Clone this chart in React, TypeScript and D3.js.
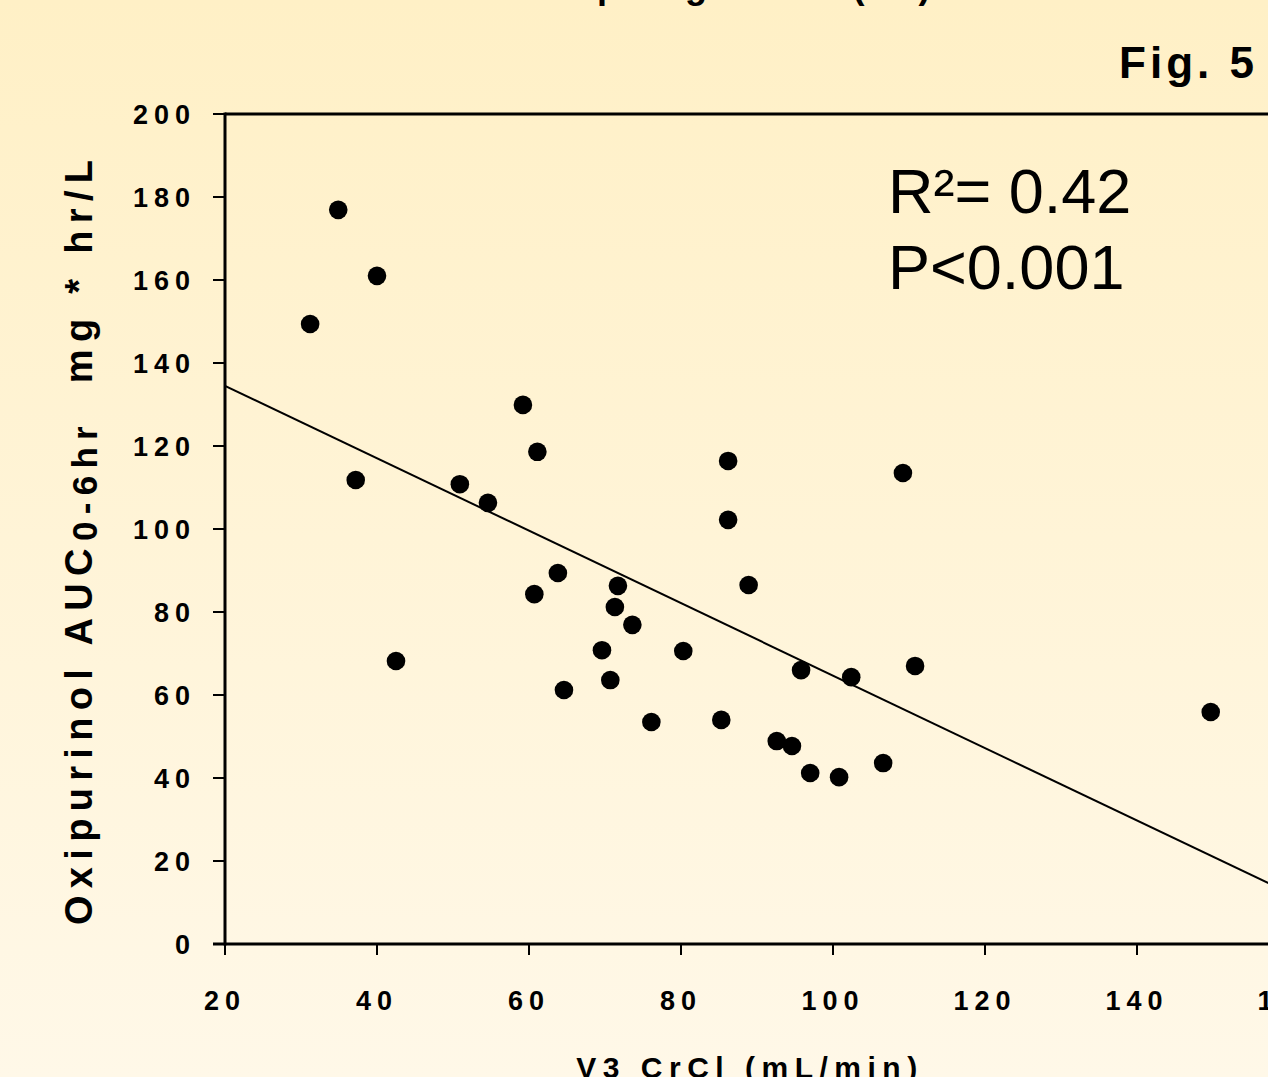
import React, { useEffect, useRef } from 'react';
import * as d3 from 'd3';

// V3 creatinine clearance (mL/min) and oxipurinol AUC 0-6hr (mg*hr/L)
const crcl = [31.2, 34.9, 40.0, 37.2, 42.5, 50.9, 54.6, 59.2, 61.1, 60.7, 63.8, 64.6, 69.6, 70.7, 71.3, 71.7, 73.6,
  76.1, 80.3, 85.3, 86.2, 86.2, 88.9, 92.6, 94.6, 95.8, 97.0, 100.8, 102.4, 106.6, 109.2, 110.8, 149.7];
const auc = [149.4, 176.9, 161.0, 111.8, 68.2, 110.8, 106.3, 129.9, 118.6, 84.3, 89.4, 61.2, 70.8, 63.6, 81.2, 86.3, 76.9,
  53.5, 70.6, 54.0, 116.4, 102.2, 86.5, 48.9, 47.7, 66.0, 41.2, 40.2, 64.3, 43.6, 113.5, 67.0, 55.9];

const xTicks = [20, 40, 60, 80, 100, 120, 140, 160];
const yTicks = [0, 20, 40, 60, 80, 100, 120, 140, 160, 180, 200];

// fitted line, end points
const trendX = [20, 160];
const trendY = [134.5, 12.3];

const FONT = '"Liberation Sans", Arial, Helvetica, sans-serif';

const App = () => {
  const svgRef = useRef<SVGSVGElement>(null);

  useEffect(() => {
    const width = 1268;
    const height = 1077;
    const svg = d3.select(svgRef.current);
    svg.selectAll('*').remove();
    svg.attr('width', width).attr('height', height);

    const defs = svg.append('defs');
    const grad = defs.append('linearGradient')
      .attr('id', 'bg').attr('x1', 0).attr('y1', 0).attr('x2', 0).attr('y2', 1);
    grad.append('stop').attr('offset', '0%').attr('stop-color', '#fff0c6');
    grad.append('stop').attr('offset', '100%').attr('stop-color', '#fff8e8');

    svg.append('rect').attr('width', width).attr('height', height).attr('fill', 'url(#bg)');

    const x = d3.scaleLinear().domain([20, 160]).range([225, 1289]);
    const y = d3.scaleLinear().domain([0, 200]).range([944, 114]);

    defs.append('clipPath').attr('id', 'plot')
      .append('rect')
      .attr('x', x(20)).attr('y', y(200))
      .attr('width', x(160) - x(20)).attr('height', y(0) - y(200));

    // title, mostly cut off at the top of the slide
    svg.append('text')
      .attr('x', 503).attr('y', -2)
      .style('font-family', FONT).style('font-weight', 'bold').style('font-size', '36px')
      .style('letter-spacing', '6px')
      .text('Sampling Time (hr)');

    svg.append('text')
      .attr('x', 1258).attr('y', 78)
      .attr('text-anchor', 'end')
      .style('font-family', FONT).style('font-weight', 'bold').style('font-size', '44px')
      .style('letter-spacing', '4px')
      .text('Fig. 5');

    // frame
    svg.append('line')
      .attr('x1', x(20)).attr('x2', x(160)).attr('y1', y(200)).attr('y2', y(200))
      .attr('stroke', '#000').attr('stroke-width', 3);
    svg.append('line')
      .attr('x1', x(160)).attr('x2', x(160)).attr('y1', y(200)).attr('y2', y(0))
      .attr('stroke', '#000').attr('stroke-width', 3);

    // y axis
    const yAxis = svg.append('g');
    yAxis.append('line')
      .attr('x1', x(20)).attr('x2', x(20)).attr('y1', y(200) - 1.5).attr('y2', y(0) + 1.5)
      .attr('stroke', '#000').attr('stroke-width', 3);
    yAxis.selectAll('.yt').data(yTicks).enter().append('line')
      .attr('x1', x(20) - 12).attr('x2', x(20))
      .attr('y1', d => y(d)).attr('y2', d => y(d))
      .attr('stroke', '#000').attr('stroke-width', 2);
    yAxis.selectAll('.yl').data(yTicks).enter().append('text')
      .attr('x', 196).attr('y', d => y(d) + 10)
      .attr('text-anchor', 'end')
      .style('font-family', FONT).style('font-weight', 'bold').style('font-size', '27px')
      .style('letter-spacing', '6px')
      .text(d => d);

    // x axis
    const xAxis = svg.append('g');
    xAxis.append('line')
      .attr('x1', x(20) - 12).attr('x2', x(160)).attr('y1', y(0)).attr('y2', y(0))
      .attr('stroke', '#000').attr('stroke-width', 3);
    xAxis.selectAll('.xt').data(xTicks).enter().append('line')
      .attr('x1', d => x(d)).attr('x2', d => x(d))
      .attr('y1', y(0)).attr('y2', y(0) + 11)
      .attr('stroke', '#000').attr('stroke-width', 2);
    xAxis.selectAll('.xl').data(xTicks).enter().append('text')
      .attr('x', d => x(d)).attr('y', 1010)
      .attr('text-anchor', 'middle')
      .style('font-family', FONT).style('font-weight', 'bold').style('font-size', '27px')
      .style('letter-spacing', '6px')
      .text(d => d);

    svg.append('text')
      .attr('x', 750).attr('y', 1078)
      .attr('text-anchor', 'middle')
      .style('font-family', FONT).style('font-weight', 'bold').style('font-size', '30px')
      .style('letter-spacing', '6.5px')
      .text('V3 CrCl (mL/min)');

    // y label
    const yl = svg.append('text')
      .attr('transform', 'translate(92, 925) rotate(-90)')
      .attr('textLength', 765)
      .attr('lengthAdjust', 'spacing')
      .style('font-family', FONT).style('font-weight', 'bold').style('font-size', '38px');
    yl.append('tspan').text('Oxipurinol AUC');
    yl.append('tspan').attr('dy', 5).style('font-size', '35px').text('0-6hr');
    yl.append('tspan').attr('dy', -5).attr('xml:space', 'preserve').text('  mg * hr/L');

    // trend line
    const line = d3.line<number>().x(d => x(trendX[d])).y(d => y(trendY[d]));
    svg.append('path')
      .attr('d', line([0, 1]))
      .attr('clip-path', 'url(#plot)')
      .attr('fill', 'none').attr('stroke', '#000').attr('stroke-width', 2);

    // points
    svg.append('g').selectAll('circle').data(crcl).enter().append('circle')
      .attr('cx', d => x(d))
      .attr('cy', (d, i) => y(auc[i]))
      .attr('r', 9.3)
      .attr('fill', '#000');

    // stats
    const stats = svg.append('g')
      .style('font-family', FONT).style('font-size', '63px');
    stats.append('text').attr('x', 888).attr('y', 213).text('R²= 0.42');
    stats.append('text').attr('x', 888).attr('y', 289).text('P<0.001');
  }, []);

  return (
    <div style={{ position: 'absolute', left: 0, top: 0, width: 1268, height: 1077, overflow: 'hidden' }}>
      <svg ref={svgRef} style={{ display: 'block' }}></svg>
    </div>
  );
};

export default App;
